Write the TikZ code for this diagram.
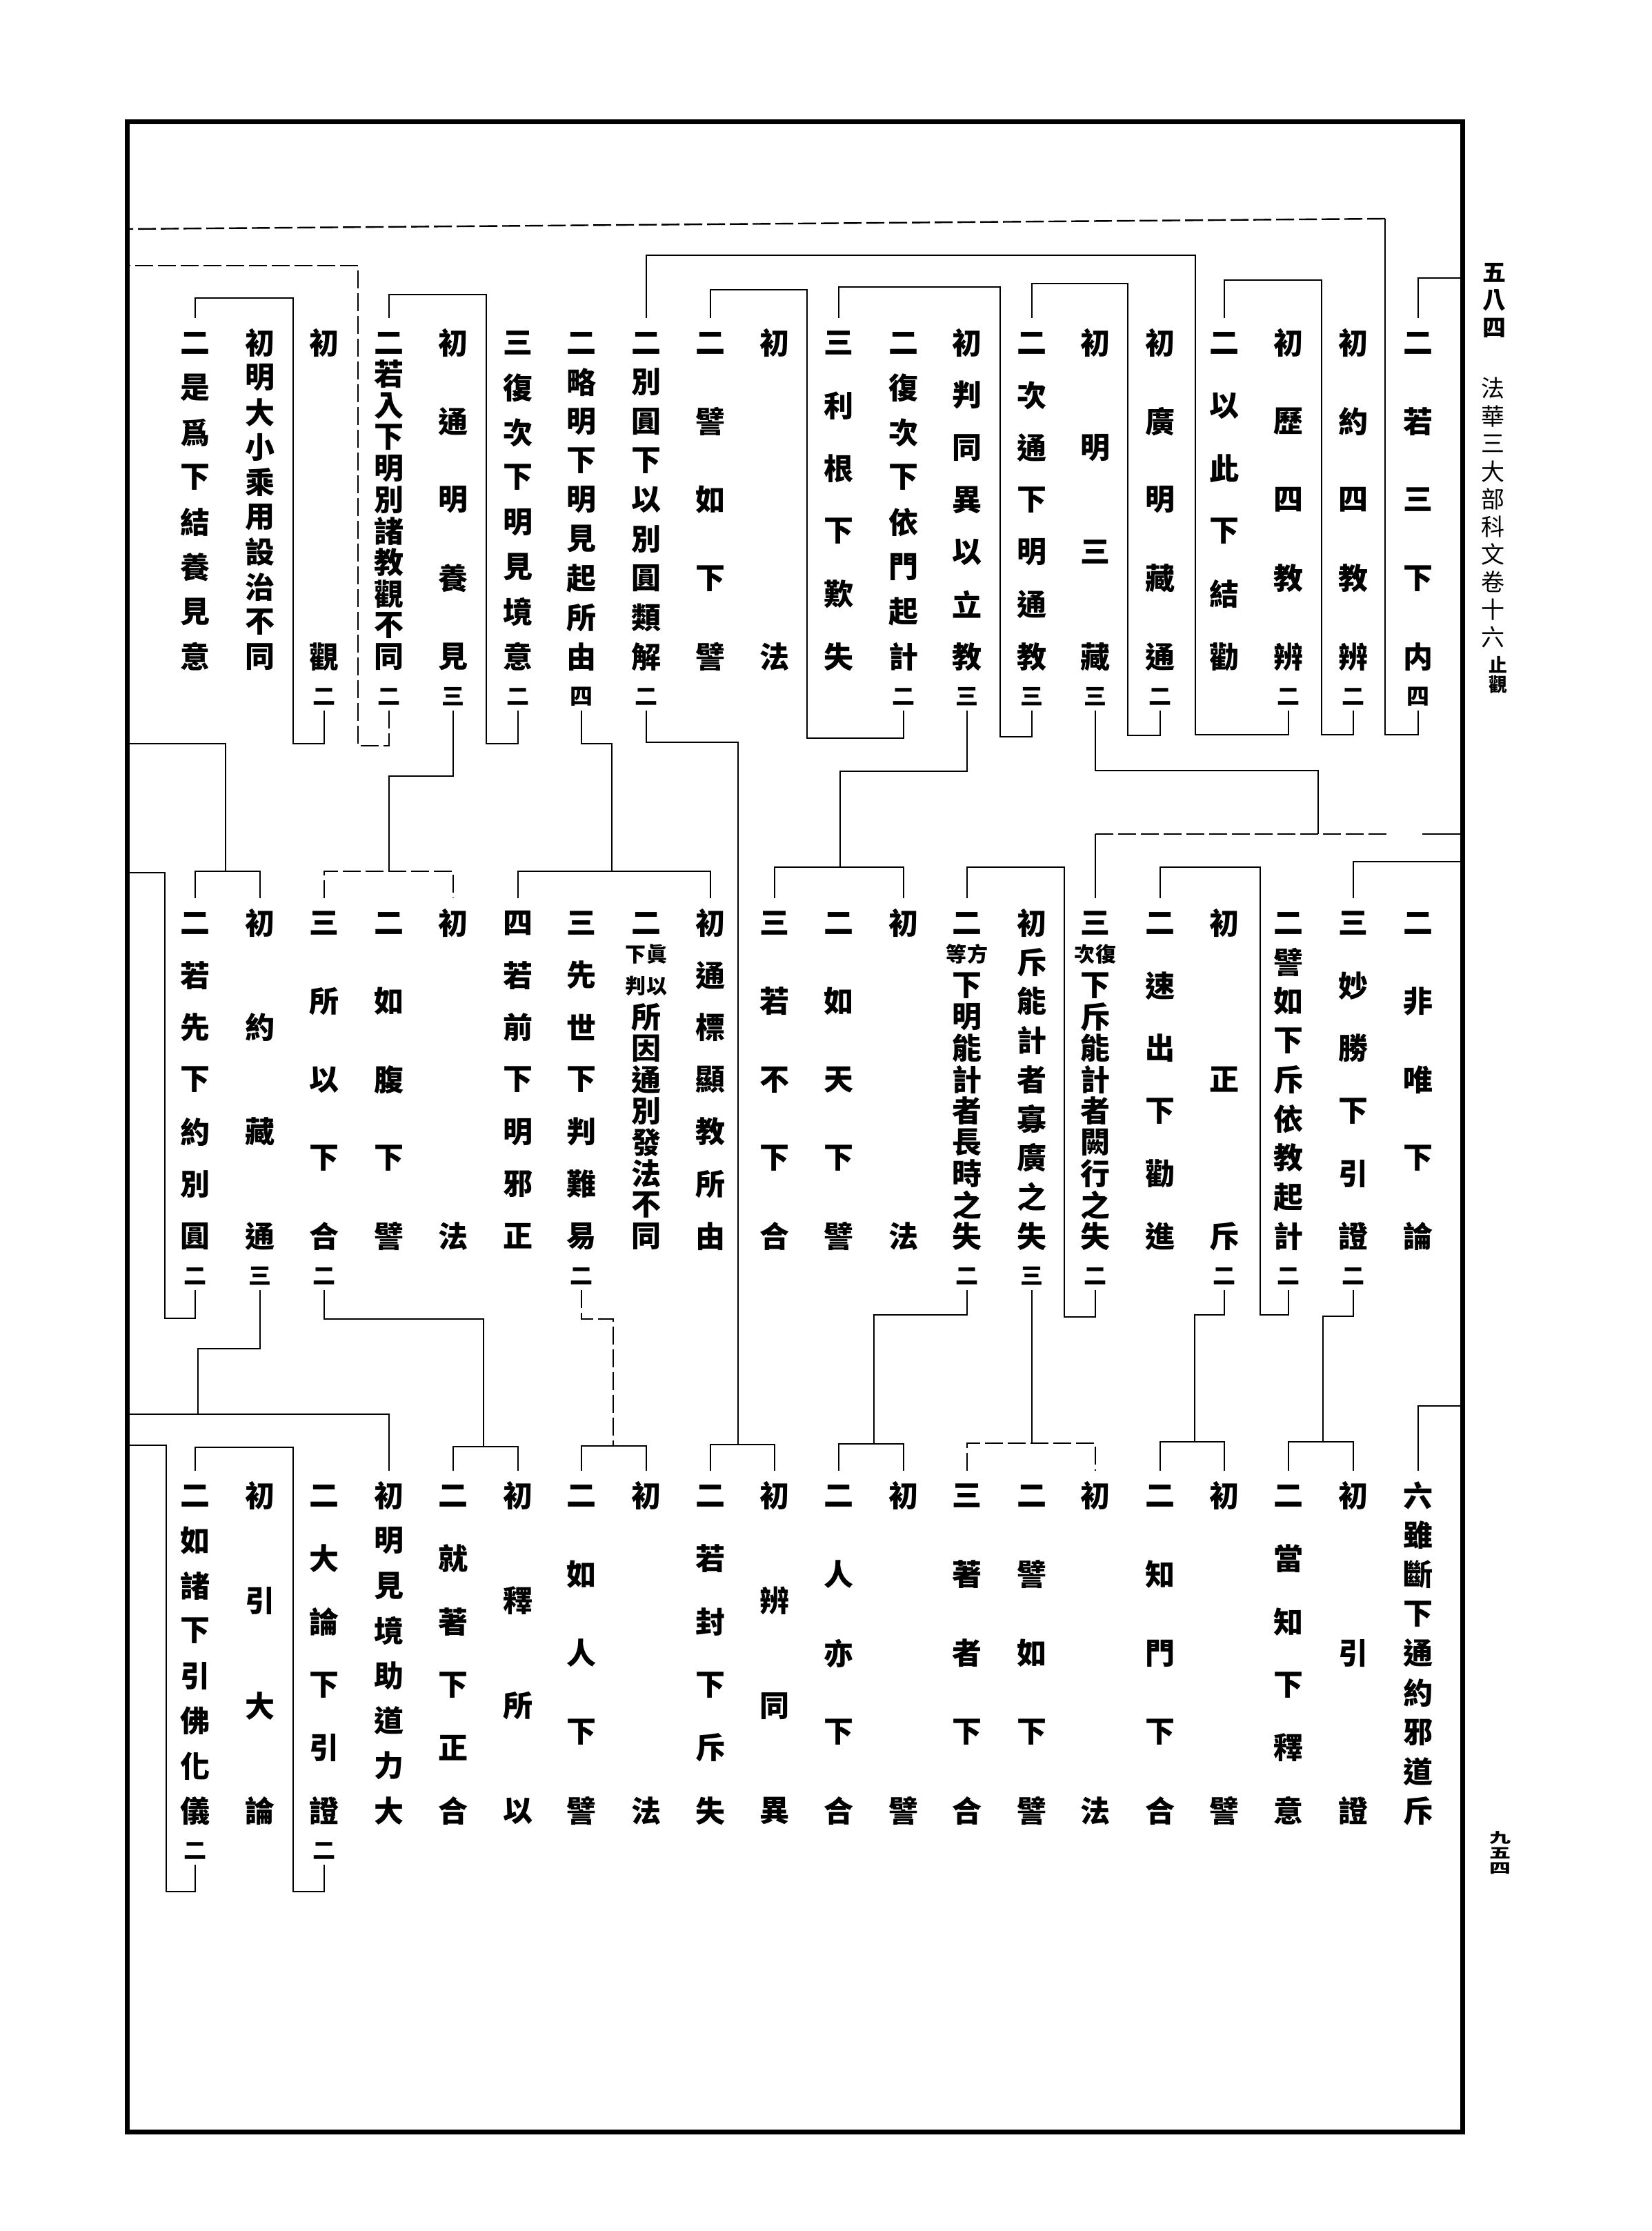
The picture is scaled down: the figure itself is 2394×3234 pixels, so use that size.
\documentclass[tikz,border=0pt]{standalone}
\usepackage{fontspec}
\newfontfamily\cjk{Noto Sans CJK TC}
\usepackage{tikz}

\newcommand{\kfont}{\cjk\bfseries\fontsize{43}{43}\selectfont}
\newcommand{\knfont}{\cjk\bfseries\fontsize{33}{33}\selectfont}
\newcommand{\hfont}{\cjk\fontsize{34}{34}\selectfont}
\newcommand{\kpair}[2]{{\fontsize{30}{30}\selectfont #1\hspace{1pt}#2}}

\def\kta{497}\def\ktb{952}
\def\kma{1338}\def\kmb{1792}
\def\kba{2168}\def\kbb{2625}

\tikzset{
	kch/.style={inner sep=0pt,font=\kfont},
	knum/.style={inner sep=0pt,font=\knfont},
	hd/.style={inner sep=0pt,font=\hfont},
	rule/.style={line width=2.4pt},
	brk/.style={rule,dash pattern=on 26pt off 7pt},
	frame/.style={line width=7pt},
}

% one column of text: name, x, first y, last y, characters, count
\newcommand{\kcol}[6]{%
	\coordinate (#1t) at (#2,{#3-36});
	\coordinate (#1b) at (#2,{#4+78});
	\foreach \ch [count=\kk] in {#5} {\global\let\kcnt\kk}
	\foreach \ch [count=\kk] in {#5} {
		\node[kch] (#1-\kk) at (#2,{#3+(\kk-1)*(#4-#3)/(\kcnt-1)}) {\ch};
	}
	\node[knum] (#1-n) at (#2,{#4+58}) {#6};
}

\begin{document}
\begin{tikzpicture}[x=1pt,y=-1pt]

	\useasboundingbox (0,0) rectangle (2394,3234);
	\draw[frame] (184,176) rectangle (2120,3090);

	% margin
	\foreach \h [count=\i] in {五,八,四}
		\node[hd,font=\hfont\bfseries] (pg-\i) at (2166,{395+(\i-1)*40}) {\h};
	\foreach \h [count=\i] in {法,華,三,大,部,科,文,卷,十,六}
		\node[hd] (ti-\i) at (2164,{563+(\i-1)*40.1}) {\h};
	\node[hd,font=\cjk\bfseries\fontsize{27}{27}\selectfont] (ti-z) at (2172,964) {止};
	\node[hd,font=\cjk\bfseries\fontsize{27}{27}\selectfont] (ti-g) at (2172,992) {觀};
	\foreach \h [count=\i] in {九,五,四}
		\node[hd,font=\cjk\bfseries\fontsize{31}{31}\selectfont] (fo-\i) at (2175,{2664+(\i-1)*22}) {\scalebox{1}[0.65]{\h}};

	% top row
	\kcol{t1}{2056}{\kta}{\ktb}{二,若,三,下,内}{四}
	\kcol{t2}{1962}{\kta}{\ktb}{初,約,四,教,辨}{二}
	\kcol{t3}{1868}{\kta}{\ktb}{初,歷,四,教,辨}{二}
	\kcol{t4}{1775}{\kta}{\ktb}{二,以,此,下,結,勸}{}
	\kcol{t5}{1682}{\kta}{\ktb}{初,廣,明,藏,通}{二}
	\kcol{t6}{1588}{\kta}{\ktb}{初,明,三,藏}{三}
	\kcol{t7}{1496}{\kta}{\ktb}{二,次,通,下,明,通,教}{三}
	\kcol{t8}{1402}{\kta}{\ktb}{初,判,同,異,以,立,教}{三}
	\kcol{t9}{1310}{\kta}{\ktb}{二,復,次,下,依,門,起,計}{二}
	\kcol{t10}{1216}{\kta}{\ktb}{三,利,根,下,歎,失}{}
	\kcol{t11}{1123}{\kta}{\ktb}{初,法}{}
	\kcol{t12}{1030}{\kta}{\ktb}{二,譬,如,下,譬}{}
	\kcol{t13}{937}{\kta}{\ktb}{二,別,圓,下,以,別,圓,類,解}{二}
	\kcol{t14}{843}{\kta}{\ktb}{二,略,明,下,明,見,起,所,由}{四}
	\kcol{t15}{751}{\kta}{\ktb}{三,復,次,下,明,見,境,意}{二}
	\kcol{t16}{657}{\kta}{\ktb}{初,通,明,養,見}{三}
	\kcol{t17}{564}{\kta}{\ktb}{二,若,入,下,明,別,諸,教,觀,不,同}{二}
	\kcol{t18}{470}{\kta}{\ktb}{初,觀}{二}
	\kcol{t19}{377}{\kta}{\ktb}{初,明,大,小,乘,用,設,治,不,同}{}
	\kcol{t20}{283}{\kta}{\ktb}{二,是,爲,下,結,養,見,意}{}

	% middle row
	\kcol{m1}{2056}{\kma}{\kmb}{二,非,唯,下,論}{}
	\kcol{m2}{1962}{\kma}{\kmb}{三,妙,勝,下,引,證}{二}
	\kcol{m3}{1868}{\kma}{\kmb}{二,譬,如,下,斥,依,教,起,計}{二}
	\kcol{m4}{1775}{\kma}{\kmb}{初,正,斥}{二}
	\kcol{m5}{1682}{\kma}{\kmb}{二,速,出,下,勸,進}{}
	\kcol{m6}{1588}{\kma}{\kmb}{三,\kpair{次}{復},下,斥,能,計,者,闕,行,之,失}{二}
	\kcol{m7}{1496}{\kma}{\kmb}{初,斥,能,計,者,寡,廣,之,失}{三}
	\kcol{m8}{1402}{\kma}{\kmb}{二,\kpair{等}{方},下,明,能,計,者,長,時,之,失}{二}
	\kcol{m9}{1310}{\kma}{\kmb}{初,法}{}
	\kcol{m10}{1216}{\kma}{\kmb}{二,如,天,下,譬}{}
	\kcol{m11}{1123}{\kma}{\kmb}{三,若,不,下,合}{}
	\kcol{m12}{1030}{\kma}{\kmb}{初,通,標,顯,教,所,由}{}
	\kcol{m13}{937}{\kma}{\kmb}{二,\kpair{下}{眞},\kpair{判}{以},所,因,通,別,發,法,不,同}{}
	\kcol{m14}{843}{\kma}{\kmb}{三,先,世,下,判,難,易}{二}
	\kcol{m15}{751}{\kma}{\kmb}{四,若,前,下,明,邪,正}{}
	\kcol{m16}{657}{\kma}{\kmb}{初,法}{}
	\kcol{m17}{564}{\kma}{\kmb}{二,如,腹,下,譬}{}
	\kcol{m18}{470}{\kma}{\kmb}{三,所,以,下,合}{二}
	\kcol{m19}{377}{\kma}{\kmb}{初,約,藏,通}{三}
	\kcol{m20}{283}{\kma}{\kmb}{二,若,先,下,約,別,圓}{二}

	% bottom row
	\kcol{b1}{2056}{\kba}{\kbb}{六,雖,斷,下,通,約,邪,道,斥}{}
	\kcol{b2}{1962}{\kba}{\kbb}{初,引,證}{}
	\kcol{b3}{1868}{\kba}{\kbb}{二,當,知,下,釋,意}{}
	\kcol{b4}{1775}{\kba}{\kbb}{初,譬}{}
	\kcol{b5}{1682}{\kba}{\kbb}{二,知,門,下,合}{}
	\kcol{b6}{1588}{\kba}{\kbb}{初,法}{}
	\kcol{b7}{1496}{\kba}{\kbb}{二,譬,如,下,譬}{}
	\kcol{b8}{1402}{\kba}{\kbb}{三,著,者,下,合}{}
	\kcol{b9}{1310}{\kba}{\kbb}{初,譬}{}
	\kcol{b10}{1216}{\kba}{\kbb}{二,人,亦,下,合}{}
	\kcol{b11}{1123}{\kba}{\kbb}{初,辨,同,異}{}
	\kcol{b12}{1030}{\kba}{\kbb}{二,若,封,下,斥,失}{}
	\kcol{b13}{937}{\kba}{\kbb}{初,法}{}
	\kcol{b14}{843}{\kba}{\kbb}{二,如,人,下,譬}{}
	\kcol{b15}{751}{\kba}{\kbb}{初,釋,所,以}{}
	\kcol{b16}{657}{\kba}{\kbb}{二,就,著,下,正,合}{}
	\kcol{b17}{564}{\kba}{\kbb}{初,明,見,境,助,道,力,大}{}
	\kcol{b18}{470}{\kba}{\kbb}{二,大,論,下,引,證}{二}
	\kcol{b19}{377}{\kba}{\kbb}{初,引,大,論}{}
	\kcol{b20}{283}{\kba}{\kbb}{二,如,諸,下,引,佛,化,儀}{二}

	% brackets of the top row
	\draw[rule] (2120,403) -| (t1t);
	\draw[rule] (t1b) |- (2008,1065) -- (2008,317);
	\draw[brk] (2008,317) -- (184,332);
	\draw[rule] (t2b) |- (1916,1065) -- (1916,406) -| (t4t);
	\draw[rule] (t3b) |- (1733,1065) -- (1733,370) -| (t13t);
	\draw[rule] (t5b) |- (1635,1066) -- (1635,411) -| (t7t);
	\draw[rule] (t7b) |- (1450,1068) -- (1450,416) -| (t10t);
	\draw[rule] (t9b) |- (1170,1070) -- (1170,420) -| (t12t);
	\draw[rule] (t15b) |- (705,1078) -- (705,427) -| (t17t);
	\draw[brk] (t17b) |- (519,1081) -- (519,385) -- (184,385);
	\draw[rule] (t18b) |- (425,1078) -- (425,432) -| (t20t);

	% from the top row down
	\draw[rule] (t6b) |- (1911,1117) -- (1911,1209);
	\draw[rule] (m6t) -- (1588,1209);
	\draw[brk] (1588,1209) -- (2010,1209);
	\draw[rule] (2062,1209) -- (2120,1209);
	\draw[rule] (t8b) |- (1218,1118) -- (1218,1257);
	\draw[rule] (m11t) |- (1218,1257) -| (m9t);
	\draw[rule] (t13b) |- (1070,1076) -- (1070,2094);
	\draw[rule] (b12t) |- (1070,2094) -| (b11t);
	\draw[rule] (t14b) |- (887,1078) -- (887,1263);
	\draw[rule] (m15t) |- (887,1263) -| (m12t);
	\draw[rule] (t16b) |- (564,1125) -- (564,1263);
	\draw[brk] (m18t) |- (564,1263) -| (m16t);
	\draw[rule] (184,1078) -| (327,1263);
	\draw[rule] (m20t) |- (327,1263) -| (m19t);

	% brackets of the middle row
	\draw[rule] (2120,1249) -| (m2t);
	\draw[rule] (m3b) |- (1827,1906) -- (1827,1257) -| (m5t);
	\draw[rule] (m6b) |- (1543,1909) -- (1543,1257) -| (m8t);
	\draw[rule] (m20b) |- (239,1911) -- (239,1265) -- (184,1265);

	% from the middle row down
	\draw[rule] (m2b) |- (1918,1908) -- (1918,2090);
	\draw[rule] (b3t) |- (1918,2090) -| (b2t);
	\draw[rule] (m4b) |- (1732,1906) -- (1732,2090);
	\draw[rule] (b5t) |- (1732,2090) -| (b4t);
	\draw[rule] (m7b) -- (1496,2092);
	\draw[brk] (b8t) |- (1496,2092) -| (b6t);
	\draw[rule] (m8b) |- (1267,1906) -- (1267,2093);
	\draw[rule] (b10t) |- (1267,2093) -| (b9t);
	\draw[brk] (m14b) |- (889,1912) -- (889,2096);
	\draw[rule] (b14t) |- (889,2096) -| (b13t);
	\draw[rule] (m18b) |- (701,1912) -- (701,2097);
	\draw[rule] (b16t) |- (701,2097) -| (b15t);
	\draw[rule] (m19b) |- (287,1955) -- (287,2050);
	\draw[rule] (184,2050) -| (b17t);

	% brackets of the bottom row
	\draw[rule] (2120,2038) -| (b1t);
	\draw[rule] (b18b) |- (425,2742) -- (425,2098) -| (b20t);
	\draw[rule] (b20b) |- (241,2742) -- (241,2095) -- (184,2095);

\end{tikzpicture}
\end{document}
